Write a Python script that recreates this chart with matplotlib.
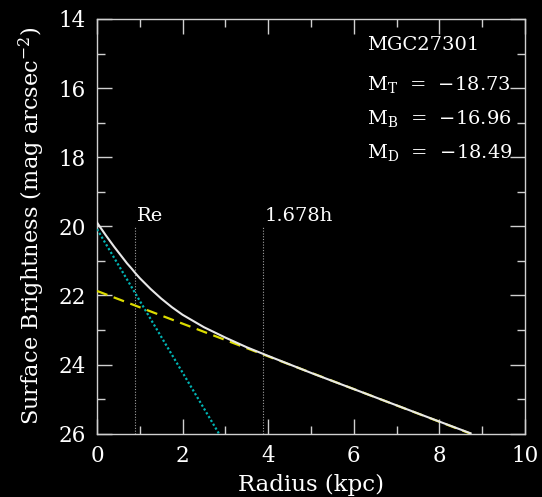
import matplotlib
matplotlib.use("Agg")
import matplotlib.pyplot as plt
from matplotlib.ticker import MultipleLocator

plt.rcParams['font.family'] = 'DejaVu Serif'
plt.rcParams['mathtext.fontset'] = 'dejavuserif'

# surface brightness profile of MGC27301 (radius in kpc, mag/arcsec^2)
r_total = [0.0, 0.1, 0.2, 0.3, 0.4, 0.5, 0.6, 0.7, 0.8, 0.9, 1.0, 1.25, 1.5,
           1.75, 2.0, 2.5, 3.0, 3.5, 4.0, 5.0, 6.0, 7.0, 8.0, 8.73]
mu_total = [19.89, 20.07, 20.25, 20.42, 20.59, 20.75, 20.91, 21.07, 21.21,
            21.36, 21.50, 21.81, 22.09, 22.34, 22.56, 22.92, 23.22, 23.50,
            23.75, 24.24, 24.71, 25.18, 25.65, 25.99]

r_bulge = [0.0, 2.85]
mu_bulge = [20.08, 26.0]

r_disk = [0.0, 8.73]
mu_disk = [21.87, 26.0]

# effective radius of bulge and 1.678 disk scale lengths
markers = [0.89, 3.87]
marker_labels = ['Re', '1.678h']

name = 'MGC27301'
mag_labels = ['T', 'B', 'D']
mag_values = [-18.73, -16.96, -18.49]

fg = '#d0d0d0'

fig = plt.figure(figsize=(5.42, 4.97), dpi=100, facecolor='black')
ax = fig.add_axes([0.179, 0.1274, 0.7896, 0.8344])
ax.set_facecolor('black')

ax.plot(r_total, mu_total, color='#e8e8e8', lw=1.5, zorder=4)
ax.plot(r_bulge, mu_bulge, color='#00b4b4', lw=1.6, ls=(0, (1, 1)), zorder=3)
ax.plot(r_disk, mu_disk, color='#dcdc00', lw=1.6, ls=(0, (5, 3)), zorder=3)

for x, lab in zip(markers, marker_labels):
    ax.plot([x, x], [26, 20.0], color='#a0a0a0', lw=0.8, ls=(0, (1, 1.5)), zorder=2)
    ax.text(x + 0.05, 19.95, lab, color='white', fontsize=14, ha='left', va='bottom')

ax.text(6.32, 14.75, name, color='white', fontsize=14, va='center')
for i, (lab, val) in enumerate(zip(mag_labels, mag_values)):
    ax.text(6.32, 15.9 + i * 0.98, r'M$_{\rm %s}$  =  $-$%.2f' % (lab, abs(val)),
            color='white', fontsize=14, va='center')

ax.set_xlim(0, 10)
ax.set_ylim(26, 14)
ax.xaxis.set_major_locator(MultipleLocator(2))
ax.xaxis.set_minor_locator(MultipleLocator(1))
ax.yaxis.set_major_locator(MultipleLocator(2))
ax.yaxis.set_minor_locator(MultipleLocator(1))
ax.tick_params(which='both', direction='in', top=True, right=True,
               color=fg, labelcolor='white', labelsize=15.5, width=1)
ax.tick_params(which='major', length=11, pad=8)
ax.tick_params(which='minor', length=6)
for s in ax.spines.values():
    s.set_color(fg)
    s.set_linewidth(1)

ax.set_xlabel('Radius (kpc)', color='white', fontsize=16.5, labelpad=5)
ax.set_ylabel(r'Surface Brightness (mag arcsec$^{-2}$)', color='white',
              fontsize=16.2, labelpad=8)

fig.savefig('out.png', dpi=100, facecolor='black')
